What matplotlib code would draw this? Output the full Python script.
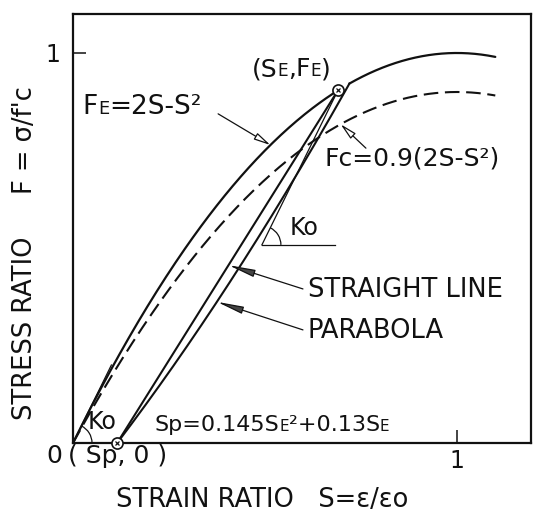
import numpy as np
import matplotlib
matplotlib.use("Agg")
import matplotlib.pyplot as plt
from matplotlib.offsetbox import TextArea, HPacker, AnnotationBbox
from matplotlib.patches import Arc, FancyArrowPatch

# ---------------- model values ----------------
S_E = 0.69            # envelope point (SE, FE)
S_P = 0.115           # residual strain ratio at zero stress (Sp, 0)
S_J = 0.72            # reloading path rejoins the envelope here
S_END = 1.10          # right end of the envelope curves
K0 = 2.0              # initial slope of F = 2S - S^2
FC_FACTOR = 0.9       # Fc = 0.9 (2S - S^2)
PARABOLA_ALPHA = 0.85 # weight of the linear term of the reloading parabola
KO_VERTEX_F = 0.508   # stress level of the horizontal leg of the Ko mark
KO_ORIGIN_TOP = 0.20  # upper end of the initial-tangent line at the origin

x_ticks = [1]
y_ticks = [1]
x_limits = (0.0, 1.193)
y_limits = (0.0, 1.10)

INK = "#111111"
FONT = "DejaVu Sans"

W, H = 533, 517
fig = plt.figure(figsize=(W / 100, H / 100), dpi=100)
fig.patch.set_facecolor("white")
ax = fig.add_axes([73 / W, 1 - 443 / H, (531 - 73) / W, (443 - 14) / H])
ax.set_xlim(*x_limits)
ax.set_ylim(*y_limits)


def envelope(s):
    return 2 * s - s ** 2


F_E = envelope(S_E)
F_J = envelope(S_J)

# envelope curve, split at the unloading point
s_lo = np.linspace(0, S_E, 200)
s_hi = np.linspace(S_J, S_END, 200)
ax.plot(s_lo, envelope(s_lo), color=INK, lw=1.6, solid_capstyle="round")
ax.plot(s_hi, envelope(s_hi), color=INK, lw=1.6, solid_capstyle="round")

# reduced curve Fc
s_all = np.linspace(0, S_END, 300)
ax.plot(s_all, FC_FACTOR * envelope(s_all), color=INK, lw=1.5,
        dashes=(7, 3.2))

# straight reloading line (Sp,0) -> (SE,FE)
straight_s = np.array([S_P, S_E])
straight_f = np.array([0.0, F_E])
ax.plot(straight_s, straight_f, color=INK, lw=1.5)

# parabolic reloading path (Sp,0) -> envelope
t = np.linspace(0, 1, 200)
para_s = S_P + t * (S_J - S_P)
para_f = F_J * (PARABOLA_ALPHA * t + (1 - PARABOLA_ALPHA) * t ** 2)
ax.plot(para_s, para_f, color=INK, lw=1.5)

# line of slope Ko through (SE,FE)
ko_f = np.array([KO_VERTEX_F, F_E])
ko_s = S_E - (F_E - ko_f) / K0
ax.plot(ko_s, ko_f, color=INK, lw=0.9)
ax.plot([ko_s[0], ko_s[0] + 0.19], [KO_VERTEX_F, KO_VERTEX_F], color=INK, lw=0.9)

# initial tangent at the origin
ax.plot([0, KO_ORIGIN_TOP / K0], [0, KO_ORIGIN_TOP], color=INK, lw=0.9)

# angle arcs (data units are close to square on this axes)
px_x = (531 - 73) / (x_limits[1] - x_limits[0])
px_y = (443 - 14) / (y_limits[1] - y_limits[0])
ang = np.degrees(np.arctan(K0 * px_y / px_x))
r_px = 19
for vx, vy in [(0.0, 0.0), (ko_s[0], KO_VERTEX_F)]:
    ax.add_patch(Arc((vx, vy), 2 * r_px / px_x, 2 * r_px / px_y,
                     theta1=0, theta2=ang, color=INK, lw=0.9))

# points (SE,FE) and (Sp,0)
for px_, py_ in [(S_E, F_E), (S_P, 0.0)]:
    ax.plot(px_, py_, "o", ms=8, mfc="white", mec=INK, mew=1.2,
            clip_on=False, zorder=5)
    ax.plot(px_, py_, "x", ms=3.5, mec=INK, mew=0.9, clip_on=False, zorder=6)

# frame and ticks
for sp in ax.spines.values():
    sp.set_linewidth(1.6)
    sp.set_color(INK)
ax.set_xticks(x_ticks)
ax.set_yticks(y_ticks)
ax.set_xticklabels([str(v) for v in x_ticks])
ax.set_yticklabels([str(v) for v in y_ticks])
ax.tick_params(direction="in", length=9.5, width=1.1, color=INK,
               labelsize=17, labelcolor=INK)
ax.tick_params(axis="x", pad=4)
ax.tick_params(axis="y", pad=9)


def rich(x, y, parts, size, align=(0.5, 0.5), coords="data"):
    boxes = [TextArea(txt, textprops=dict(fontsize=size * sc, color=INK,
                                          family=FONT))
             for txt, sc in parts]
    pack = HPacker(children=boxes, align="baseline", pad=0, sep=0)
    ab = AnnotationBbox(pack, (x, y), xycoords=coords, box_alignment=align,
                        frameon=False, pad=0, annotation_clip=False)
    ax.add_artist(ab)


SMALL = 0.68
rich(0.568, 0.958, [("(S", 1), ("E", SMALL), (",F", 1), ("E", SMALL), (")", 1)], 18)
rich(0.18, 0.862, [("F", 1), ("E", SMALL), ("=2S-S²", 1)], 19)
rich(0.883, 0.73, [("Fc=0.9(2S-S²)", 1)], 18)
rich(0.518, 0.046, [("Sp=0.145S", 1), ("E", SMALL), ("²+0.13S", 1), ("E", SMALL)], 16)
rich(0.602, 0.551, [("Ko", 1)], 17)
rich(0.075, 0.054, [("Ko", 1)], 17)
rich(S_P, -0.034, [("( Sp, 0 )", 1)], 18)
rich(-0.049, -0.034, [("0", 1)], 18)
rich(0.612, 0.392, [("STRAIGHT LINE", 1)], 18.5, align=(0, 0.5))
rich(0.612, 0.287, [("PARABOLA", 1)], 18.5, align=(0, 0.5))


def pointer(tail, tip, hollow, head_len, head_w):
    style = f"-|>,head_length={head_len},head_width={head_w}"
    arr = FancyArrowPatch(tail, tip, arrowstyle=style, mutation_scale=10,
                          lw=0.9, ec=INK, fc="white" if hollow else "#444444",
                          shrinkA=0, shrinkB=0, zorder=4)
    ax.add_patch(arr)


def on_curve(s_arr, f_arr, f):
    return float(np.interp(f, f_arr, s_arr)), f


f_tip = 0.764
pointer((0.378, 0.844), (1 - np.sqrt(1 - f_tip), f_tip), True, 1.0, 0.22)
s_tip = 0.697
pointer((0.763, 0.756), (s_tip, FC_FACTOR * envelope(s_tip)), True, 1.0, 0.22)
pointer((0.599, 0.395), on_curve(straight_s, straight_f, 0.456), False, 1.6, 0.22)
pointer((0.599, 0.29), on_curve(para_s, para_f, 0.362), False, 1.6, 0.22)

# axis titles
fig.text(262 / W, 1 - 500 / H, "STRAIN RATIO   S=ε/εo", ha="center",
         va="center", fontsize=18.5, color=INK, family=FONT)
fig.text(25 / W, 1 - 328 / H, "STRESS RATIO", ha="center",
         va="center", rotation=90, fontsize=18.5, color=INK, family=FONT)
fig.text(25 / W, 1 - 140 / H, "F = σ/f'c", ha="center",
         va="center", rotation=90, fontsize=18.5, color=INK, family=FONT)

fig.savefig("out.png", dpi=100, facecolor="white")
